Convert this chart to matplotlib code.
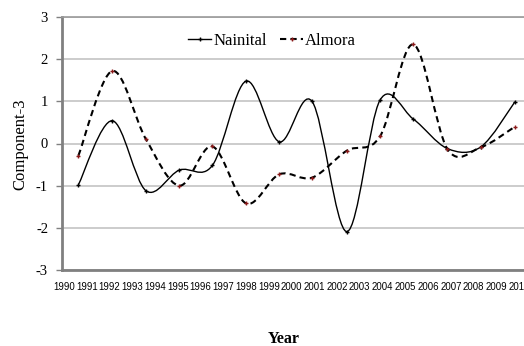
import numpy as np
import matplotlib
matplotlib.use('Agg')
import matplotlib.pyplot as plt
from matplotlib.path import Path
from matplotlib.patches import PathPatch
from matplotlib.lines import Line2D

plt.rcParams['axes.unicode_minus'] = False

# positions of the data points on the year axis
point_x = [1990.63, 1992.12, 1993.60, 1995.07, 1996.52, 1998.0, 1999.46,
           2000.90, 2002.43, 2003.89, 2005.35, 2006.85, 2008.32, 2009.82]
nainital = [-0.98, 0.54, -1.12, -0.63, -0.52, 1.48, 0.04,
            1.0, -2.09, 1.03, 0.58, -0.12, -0.08, 0.99]
almora = [-0.29, 1.72, 0.10, -1.0, -0.07, -1.42, -0.73,
          -0.81, -0.17, 0.17, 2.35, -0.13, -0.09, 0.40]
years = list(range(1990, 2011))
yticks = [-3, -2, -1, 0, 1, 2, 3]

serif = ['Liberation Serif', 'DejaVu Serif']
sans = ['Liberation Sans', 'DejaVu Sans']


def smooth_path(xs, ys):
    # Catmull-Rom style bezier, like a spreadsheet "smoothed line"
    pts = np.column_stack([xs, ys])
    n = len(pts)
    verts = [pts[0]]
    codes = [Path.MOVETO]
    for i in range(n - 1):
        p0 = pts[i - 1] if i > 0 else pts[i]
        p1 = pts[i]
        p2 = pts[i + 1]
        p3 = pts[i + 2] if i + 2 < n else pts[i + 1]
        c1 = p1 + (p2 - p0) / 6.0
        c2 = p2 - (p3 - p1) / 6.0
        verts += [c1, c2, p2]
        codes += [Path.CURVE4] * 3
    return Path(verts, codes)


fig = plt.figure(figsize=(5.24, 3.46), dpi=100)
# plot box runs past the right edge, as in the cropped original
ax = fig.add_axes([62 / 524, 76 / 346, 478 / 524, 253 / 346])

ax.set_xlim(1989.91, 2010.92)
ax.set_ylim(-3, 3)

ax.set_yticks(yticks)
ax.yaxis.grid(True, color='#c8c8c8', linewidth=1.3)
ax.set_axisbelow(True)

ax.add_patch(PathPatch(smooth_path(point_x, nainital), facecolor='none',
                       edgecolor='black', linewidth=1.0))
ax.add_patch(PathPatch(smooth_path(point_x, almora), facecolor='none',
                       edgecolor='black', linewidth=1.5,
                       linestyle=(0, (3, 2))))
ax.plot(point_x, nainital, linestyle='none', marker='+', color='black',
        markersize=3.5, markeredgewidth=1.0)
ax.plot(point_x, almora, linestyle='none', marker='+', color='#8b1a1a',
        markersize=3.5, markeredgewidth=1.0)

for side in ['left', 'bottom']:
    ax.spines[side].set_color('#808080')
    ax.spines[side].set_linewidth(2.0)
for side in ['top', 'right']:
    ax.spines[side].set_color('#9a9a9a')
    ax.spines[side].set_linewidth(1.2)

ax.set_xticks(years)
ax.set_xticklabels([str(y) for y in years], family=sans, fontsize=6.9)
ax.tick_params(axis='x', length=0, pad=9)
ax.tick_params(axis='y', length=4, width=1, color='#808080', pad=6,
               labelsize=10.5)
for lab in ax.get_yticklabels():
    lab.set_family(serif)

fig.text(20 / 524, 1 - 144 / 346, 'Component-3', rotation=90, ha='center',
         va='center', family=serif, fontsize=12)
fig.text(284 / 524, 1 - 339 / 346, 'Year', ha='center', va='center',
         family=serif, fontsize=11.5, fontweight='bold')

handles = [
    Line2D([], [], color='black', linewidth=1.0, marker='+', markersize=3.5),
    Line2D([], [], color='black', linewidth=1.5, linestyle=(0, (3, 2)),
           marker='+', markersize=3.5, markeredgecolor='#8b1a1a'),
]
ax.legend(handles, ['Nainital', 'Almora'], ncol=2, frameon=False,
          loc='center', bbox_to_anchor=(272 / 524, 1 - 41 / 346),
          bbox_transform=fig.transFigure, prop={'family': serif, 'size': 12},
          handlelength=1.4, handletextpad=0.1, columnspacing=0.8)

fig.savefig('out.png', dpi=100)
